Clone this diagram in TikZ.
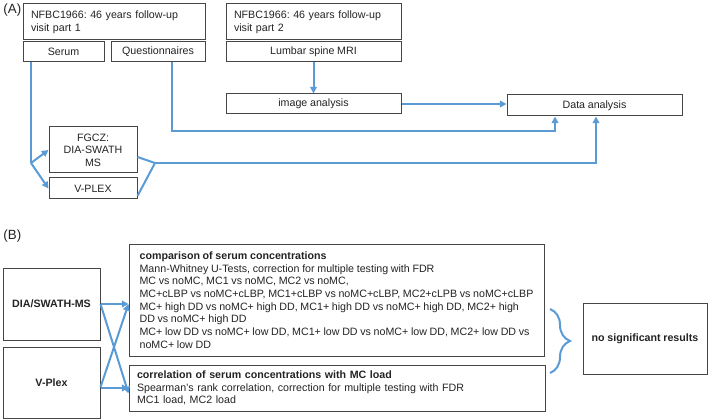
\documentclass[tikz,border=0pt]{standalone}
\usepackage{fontspec}
\setmainfont{Liberation Sans}[WordSpace=0.9]
\frenchspacing
\usetikzlibrary{arrows.meta,decorations.pathreplacing}

\definecolor{flowblue}{RGB}{91,155,213}
\definecolor{boxgray}{RGB}{70,70,70}
\definecolor{txtgray}{RGB}{35,35,35}

\tikzset{every picture/.style={line width=0.75pt}}
\tikzset{
  box/.style={draw=boxgray, line width=0.75pt, inner sep=0pt, text=txtgray, font=\fontsize{8}{9.5}\selectfont, align=center},
  leftbox/.style={box, align=left, inner xsep=6pt},
  flow/.style={draw=flowblue, line width=1.5pt, -{Triangle[length=5pt,width=5pt]}},
  link/.style={draw=flowblue, line width=1.5pt},
  panel/.style={anchor=north west, inner sep=0.75pt, text=txtgray, font=\fontsize{10}{12}\selectfont}
}

\begin{document}
\begin{tikzpicture}[x=0.75pt,y=0.75pt,yscale=-1,xscale=1]
\useasboundingbox (0,0) rectangle (709,420);

% Text Node
\draw (2,2) node [panel] (lblA) {(A)};
% Text Node
\draw (2,228) node [panel] (lblB) {(B)};

%Shape: Rectangle [visit part 1]
\node [leftbox, minimum width=136.5pt, minimum height=27pt, text width=124.5pt] (visit1) at (114,22) {NFBC1966: 46 years follow-up\\visit part 1};
%Shape: Rectangle [serum]
\node [box, minimum width=60.75pt, minimum height=15pt] (serum) at (63.5,52) {Serum};
%Shape: Rectangle [questionnaires]
\node [box, minimum width=70.5pt, minimum height=15pt] (quest) at (158,52) {Questionnaires};
%Shape: Rectangle [visit part 2]
\node [leftbox, minimum width=131.25pt, minimum height=27pt, text width=119.25pt] (visit2) at (313.5,22) {NFBC1966: 46 years follow-up\\visit part 2};
%Shape: Rectangle [mri]
\node [box, minimum width=131.25pt, minimum height=15pt] (mri) at (313.5,52) {Lumbar spine MRI};
%Shape: Rectangle [image analysis]
\node [box, minimum width=131.25pt, minimum height=15pt] (image) at (313.5,104) {image analysis};
%Shape: Rectangle [data analysis]
\node [box, minimum width=131.25pt, minimum height=15.75pt] (data) at (594.5,105.5) {Data analysis};
%Shape: Rectangle [fgcz]
\node [box, minimum width=66pt, minimum height=34.5pt] (fgcz) at (93,150) {FGCZ:\\DIA-SWATH\\MS};
%Shape: Rectangle [vplex]
\node [box, minimum width=66pt, minimum height=15.75pt] (vplexA) at (93,188.5) {V-PLEX};

\coordinate (split) at (31,163);
\coordinate (merge) at (155,163);
\coordinate (qturn) at (555,131);
\coordinate (mturn) at (596,163);

%Straight Lines
\draw [flow] (mri) -- (image);
\draw [flow] (image.east) -- (image.east -| data.west);
\draw [flow] ([xshift=10.5pt]quest.south) |- (qturn) -- (qturn |- data.south);
\draw [link] (serum.south -| split) -- (split);
\draw [flow] (split) -- (fgcz.west);
\draw [flow] (split) -- (vplexA.west);
\draw [link] ([yshift=5.25pt]fgcz.east) -- (merge) -- ([yshift=5.6pt]vplexA.east);
\draw [flow] (merge) -- (mturn) -- (mturn |- data.south);

%Shape: Rectangle [dia/swath]
\node [box, minimum width=72.75pt, minimum height=54pt, font=\fontsize{8}{9.5}\selectfont\bfseries] (dia) at (51.5,304) {DIA/SWATH-MS};
%Shape: Rectangle [v-plex]
\node [box, minimum width=72.75pt, minimum height=53.25pt, font=\fontsize{8}{9.5}\selectfont\bfseries] (vplexB) at (51.5,382.5) {V-Plex};
%Shape: Rectangle [comparison]
\node [box, align=left, minimum width=311.25pt, minimum height=84pt] (comp) at (336.5,300) {\textbf{comparison of serum concentrations}\\
Mann-Whitney U-Tests, correction for multiple testing with FDR\\
MC vs noMC, MC1 vs noMC, MC2 vs noMC,\\
MC+cLBP vs noMC+cLBP, MC1+cLBP vs noMC+cLBP, MC2+cLPB vs noMC+cLBP\\
MC+ high DD vs noMC+ high DD, MC1+ high DD vs noMC+ high DD, MC2+ high\\
DD vs noMC+ high DD\\
MC+ low DD vs noMC+ low DD, MC1+ low DD vs noMC+ low DD, MC2+ low DD vs\\
noMC+ low DD};
%Shape: Rectangle [correlation]
\node [leftbox, minimum width=312pt, minimum height=34.5pt, text width=300pt, inner xsep=6pt] (corr) at (337,388) {\textbf{correlation of serum concentrations with MC load}\\
Spearman’s rank correlation, correction for multiple testing with FDR\\
MC1 load, MC2 load};
%Shape: Rectangle [result]
\node [box, minimum width=93pt, minimum height=53.25pt, font=\fontsize{8}{9.5}\selectfont\bfseries] (nosig) at (645,338.5) {no significant results};

%Straight Lines
\draw [flow] (dia.east) -- (dia.east -| comp.west);
\draw [flow] (dia.east) -- ([yshift=4pt]corr.west);
\draw [flow] ([yshift=3.5pt]vplexB.east) -- (comp.west |- dia.east);
\draw [flow] (vplexB.east |- corr.west) -- (corr.west);

%Curly brace
\draw [link, decorate, decoration={brace, amplitude=15pt}] (550,309) -- (550,373);

\end{tikzpicture}
\end{document}
